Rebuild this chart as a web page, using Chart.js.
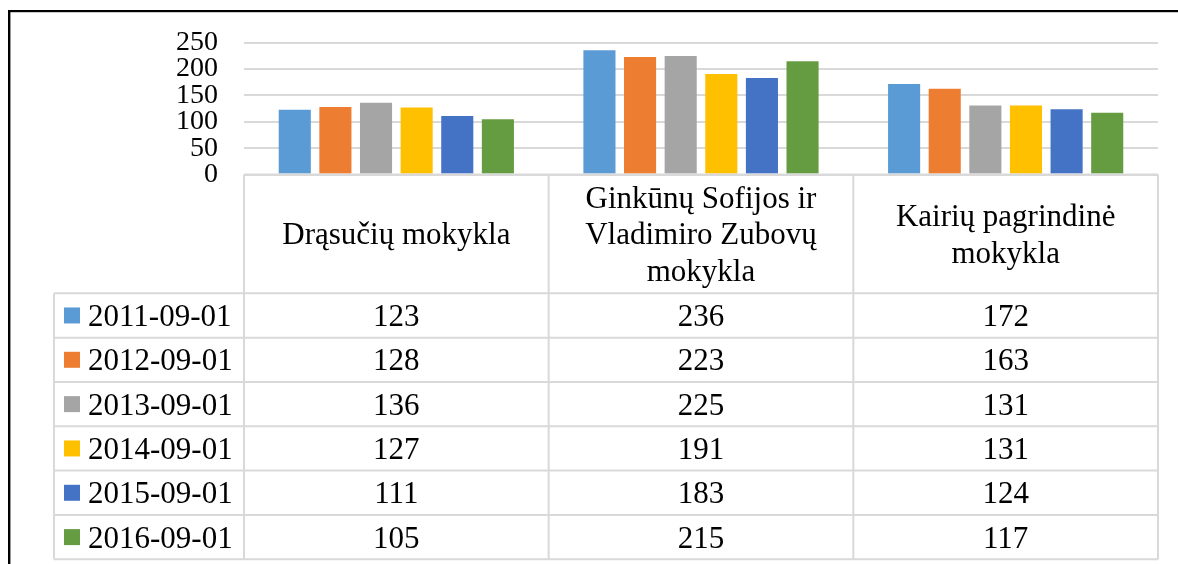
<!DOCTYPE html>
<html>
<head>
<meta charset="utf-8">
<script src="https://cdn.jsdelivr.net/npm/chart.js@4.4.1/dist/chart.umd.min.js"></script>
<style>
  body { margin: 0; background: #fff; }
  #wrap { position: relative; width: 1178px; height: 564px; }
</style>
</head>
<body>
<div id="wrap"><canvas id="chart" width="1178" height="564"></canvas></div>
<script>
// Mokyklos (kategorijos), eilutės suskaidytos kaip lentelėje
const categories = [
    ["Drąsučių mokykla"],
    ["Ginkūnų Sofijos ir", "Vladimiro Zubovų", "mokykla"],
    ["Kairių pagrindinė", "mokykla"]
];
const seriesLabels = ["2011-09-01", "2012-09-01", "2013-09-01", "2014-09-01", "2015-09-01", "2016-09-01"];
const values2011 = [123, 236, 172];
const values2012 = [128, 223, 163];
const values2013 = [136, 225, 131];
const values2014 = [127, 191, 131];
const values2015 = [111, 183, 124];
const values2016 = [105, 215, 117];
const yTicks = [0, 50, 100, 150, 200, 250];

const seriesValues = [values2011, values2012, values2013, values2014, values2015, values2016];
const colors = ["#5B9BD5", "#ED7D31", "#A5A5A5", "#FFC000", "#4472C4", "#659C41"];

const FONT = "'Liberation Serif', 'Times New Roman', serif";
const lineColor = "#d9d9d9";
const headerH = 118.8;
const rowH = 44.33;
const labelLeft = 54;

// Lentelė po grafiku (kaip Excel duomenų lentelė)
const dataTablePlugin = {
    id: "dataTable",
    afterDraw(chart) {
        const ctx = chart.ctx;
        const area = chart.chartArea;
        const xs = chart.scales.x;
        const half = (area.right - area.left) / (2 * categories.length);
        const headerTop = area.bottom;
        const rowsTop = headerTop + headerH;
        const tableBottom = rowsTop + rowH * seriesLabels.length;

        ctx.save();
        // išorinis rėmelis
        ctx.fillStyle = "#000";
        ctx.fillRect(8, 10, chart.width - 8, 2.2);
        ctx.fillRect(8, 10, 2.4, chart.height - 10);

        ctx.strokeStyle = lineColor;
        ctx.lineWidth = 2;
        ctx.beginPath();
        ctx.moveTo(area.left, headerTop);
        ctx.lineTo(area.right, headerTop);
        for (let r = 0; r <= seriesLabels.length; r++) {
            const y = rowsTop + r * rowH;
            ctx.moveTo(labelLeft, y);
            ctx.lineTo(area.right, y);
        }
        ctx.moveTo(labelLeft, rowsTop);
        ctx.lineTo(labelLeft, tableBottom);
        for (let i = 0; i < categories.length; i++) {
            const x = xs.getPixelForValue(i) - half;
            ctx.moveTo(x, headerTop);
            ctx.lineTo(x, tableBottom);
        }
        ctx.moveTo(area.right, headerTop);
        ctx.lineTo(area.right, tableBottom);
        ctx.stroke();

        ctx.fillStyle = "#000";
        ctx.font = "31px " + FONT;
        ctx.textAlign = "center";
        ctx.textBaseline = "alphabetic";
        const headerMid = headerTop + headerH / 2;
        const lineH = 36.7;
        categories.forEach((lines, i) => {
            const cx = xs.getPixelForValue(i);
            lines.forEach((line, k) => {
                const y = headerMid + 10.3 + (k - (lines.length - 1) / 2) * lineH;
                ctx.fillText(line, cx, y);
            });
        });

        seriesLabels.forEach((label, r) => {
            const mid = rowsTop + r * rowH + rowH / 2;
            ctx.fillStyle = colors[r];
            ctx.fillRect(64, mid - 8, 16, 16);
            ctx.fillStyle = "#000";
            ctx.textAlign = "left";
            ctx.fillText(label, 88, mid + 10.5);
            ctx.textAlign = "center";
            seriesValues[r].forEach((v, i) => {
                ctx.fillText(String(v), xs.getPixelForValue(i), mid + 10.5);
            });
        });
        ctx.restore();
    }
};

new Chart(document.getElementById("chart"), {
    type: "bar",
    data: {
        labels: categories,
        datasets: seriesLabels.map((label, i) => ({
            label: label,
            data: seriesValues[i],
            backgroundColor: colors[i],
            borderWidth: 0,
            categoryPercentage: 0.8,
            barPercentage: 0.79
        }))
    },
    options: {
        responsive: false,
        animation: false,
        layout: { padding: { top: 40, bottom: 389.5, left: 0, right: 20 } },
        plugins: { legend: { display: false }, tooltip: { enabled: false } },
        scales: {
            x: { display: false },
            y: {
                min: yTicks[0],
                max: yTicks[yTicks.length - 1],
                afterFit(scale) { scale.width = 244; },
                border: { display: false },
                grid: { color: lineColor, lineWidth: 2, drawTicks: false },
                ticks: {
                    stepSize: yTicks[1] - yTicks[0],
                    autoSkip: false,
                    padding: 26,
                    color: "#000",
                    font: { family: FONT, size: 28 }
                }
            }
        }
    },
    plugins: [dataTablePlugin]
});
</script>
</body>
</html>
